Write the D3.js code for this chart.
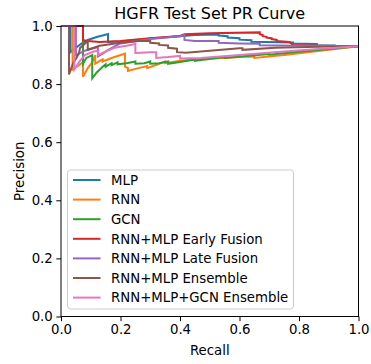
<!DOCTYPE html>
<html>
<head>
<meta charset="utf-8">
<script src="https://cdn.jsdelivr.net/npm/d3@7"></script>
<style>
  body { margin: 0; background: #fff; }
  text { font-family: "DejaVu Sans", sans-serif; fill: #000; }
</style>
</head>
<body>
<script>
// PR curves, as [recall, precision] vertices
var mlpPts = [[0,1],[0.032,1],[0.032,0.91],[0.05,0.925],[0.07,0.94],[0.09,0.952],[0.12,0.962],[0.158,0.972],
  [0.158,0.945],[0.2,0.947],[0.3,0.957],[0.4,0.965],[0.45,0.969],[0.53,0.971],[0.53,0.967],[0.56,0.965],
  [0.56,0.96],[0.6,0.958],[0.6,0.953],[0.64,0.951],[0.64,0.946],[0.78,0.943],[0.78,0.94],[0.86,0.938],
  [0.86,0.934],[0.92,0.933],[0.92,0.931],[1.0,0.93]];

var rnnPts = [[0,1],[0.039,1],[0.039,0.85],[0.06,0.865],[0.074,0.876],[0.074,0.825],[0.09,0.855],[0.105,0.875],
  [0.115,0.9],[0.115,0.87],[0.13,0.88],[0.14,0.885],[0.14,0.878],[0.17,0.89],[0.2,0.9],[0.215,0.905],
  [0.215,0.86],[0.225,0.855],[0.225,0.845],[0.26,0.855],[0.29,0.862],[0.29,0.855],[0.33,0.87],[0.35,0.878],
  [0.35,0.872],[0.4,0.88],[0.45,0.885],[0.5,0.888],[0.55,0.89],[0.6,0.893],[0.65,0.895],[0.65,0.89],
  [0.75,0.9],[0.85,0.912],[0.95,0.924],[1.0,0.93]];

var gcnPts = [[0,1],[0.074,1],[0.074,0.87],[0.085,0.89],[0.105,0.9],[0.105,0.82],[0.12,0.84],[0.14,0.86],
  [0.15,0.868],[0.15,0.86],[0.17,0.872],[0.17,0.865],[0.19,0.875],[0.19,0.868],[0.22,0.872],[0.25,0.878],
  [0.25,0.87],[0.28,0.872],[0.3,0.878],[0.3,0.87],[0.33,0.872],[0.36,0.878],[0.36,0.87],[0.4,0.876],
  [0.45,0.885],[0.45,0.88],[0.55,0.893],[0.55,0.89],[0.7,0.904],[0.7,0.901],[0.8,0.911],[1.0,0.93]];

var earlyPts = [[0,1],[0.074,1],[0.074,0.952],[0.09,0.948],[0.13,0.945],[0.2,0.948],[0.3,0.958],[0.4,0.966],
  [0.415,0.972],[0.5,0.975],[0.668,0.978],[0.668,0.972],[0.678,0.969],[0.678,0.965],[0.691,0.963],
  [0.691,0.96],[0.708,0.958],[0.708,0.955],[0.725,0.952],[0.725,0.948],[0.768,0.945],[0.779,0.935],
  [0.87,0.932],[1.0,0.93]];

var latePts = [[0,1],[0.05,1],[0.05,0.9],[0.08,0.915],[0.124,0.928],[0.124,0.895],[0.14,0.905],[0.155,0.915],
  [0.18,0.93],[0.2,0.94],[0.3,0.955],[0.4,0.965],[0.415,0.969],[0.415,0.952],[0.45,0.948],[0.53,0.948],
  [0.53,0.942],[0.6,0.94],[0.668,0.939],[0.668,0.934],[0.8,0.932],[1.0,0.93]];

var ensPts = [[0,1],[0.027,1],[0.027,0.833],[0.04,0.87],[0.06,0.905],[0.064,0.924],[0.09,0.948],[0.09,0.918],
  [0.13,0.932],[0.2,0.942],[0.26,0.948],[0.3,0.948],[0.3,0.942],[0.33,0.94],[0.33,0.935],[0.36,0.933],
  [0.36,0.925],[0.39,0.922],[0.39,0.91],[0.42,0.908],[0.47,0.912],[0.6,0.923],[0.61,0.923],[0.61,0.918],
  [0.72,0.925],[0.9,0.929],[1.0,0.93]];

var ens3Pts = [[0,1],[0.045,1],[0.045,0.85],[0.06,0.875],[0.08,0.9],[0.11,0.912],[0.125,0.915],[0.125,0.9],
  [0.145,0.91],[0.18,0.925],[0.22,0.932],[0.25,0.938],[0.25,0.907],[0.27,0.908],[0.3,0.91],[0.32,0.91],
  [0.32,0.89],[0.36,0.893],[0.4,0.897],[0.4,0.888],[0.47,0.89],[0.6,0.9],[0.75,0.912],[0.9,0.923],[1.0,0.93]];

var seriesNames = ["MLP", "RNN", "GCN", "RNN+MLP Early Fusion", "RNN+MLP Late Fusion",
                   "RNN+MLP Ensemble", "RNN+MLP+GCN Ensemble"];
var seriesColors = ["#1f77b4", "#ff7f0e", "#2ca02c", "#d62728", "#9467bd", "#8c564b", "#e377c2"];
var seriesPts = [mlpPts, rnnPts, gcnPts, earlyPts, latePts, ensPts, ens3Pts];

var xTicks = [0, 0.2, 0.4, 0.6, 0.8, 1.0];
var yTicks = [0, 0.2, 0.4, 0.6, 0.8, 1.0];

var svg_width = 371, svg_height = 364;
var plot = {left: 61, right: 358.5, top: 26, bottom: 316.5};

var svg = d3.select("body").append("svg")
  .attr("width", svg_width).attr("height", svg_height);

var x = d3.scaleLinear().domain([0, 1]).range([plot.left, plot.right]);
var y = d3.scaleLinear().domain([0, 1]).range([plot.bottom, plot.top]);

// curves
var line = d3.line()
  .x(function(d) { return x(d[0]); })
  .y(function(d) { return y(d[1]); });

svg.append("g").selectAll("path.pr").data(seriesPts)
  .enter().append("path")
    .attr("class", "pr")
    .attr("d", line)
    .attr("fill", "none")
    .attr("stroke", function(d, i) { return seriesColors[i]; })
    .attr("stroke-width", 2)
    .attr("stroke-linejoin", "miter");

// axes
var xAxis = d3.axisBottom(x).tickValues(xTicks).tickSize(4.7).tickPadding(3.5).tickFormat(d3.format(".1f"));
var yAxis = d3.axisLeft(y).tickValues(yTicks).tickSize(4.7).tickPadding(3.5).tickFormat(d3.format(".1f"));

var gx = svg.append("g").attr("transform", "translate(0," + plot.bottom + ")").call(xAxis);
var gy = svg.append("g").attr("transform", "translate(" + plot.left + ",0)").call(yAxis);
[gx, gy].forEach(function(g) {
  g.select(".domain").remove();
  g.selectAll("line").attr("stroke", "#000").attr("stroke-width", 1);
  g.selectAll("text").attr("font-size", "13.3px").attr("font-family", "DejaVu Sans").attr("fill", "#000");
});

// spines
svg.append("rect")
  .attr("x", plot.left).attr("y", plot.top)
  .attr("width", plot.right - plot.left).attr("height", plot.bottom - plot.top)
  .attr("fill", "none").attr("stroke", "#000").attr("stroke-width", 1);

// titles
svg.append("text")
  .attr("x", (plot.left + plot.right) / 2).attr("y", 19)
  .attr("text-anchor", "middle").attr("font-size", "16px")
  .text("HGFR Test Set PR Curve");

svg.append("text")
  .attr("x", (plot.left + plot.right) / 2).attr("y", 355)
  .attr("text-anchor", "middle").attr("font-size", "13.3px")
  .text("Recall");

svg.append("text")
  .attr("transform", "translate(24," + ((plot.top + plot.bottom) / 2) + ") rotate(-90)")
  .attr("text-anchor", "middle").attr("font-size", "13.3px")
  .text("Precision");

// legend
var legend = svg.append("g");
legend.append("rect")
  .attr("x", 67.5).attr("y", 170).attr("width", 226).attr("height", 139).attr("rx", 3)
  .attr("fill", "#fff").attr("fill-opacity", 0.8)
  .attr("stroke", "#ccc").attr("stroke-width", 1);

var rows = legend.selectAll("g.row").data(seriesNames)
  .enter().append("g")
    .attr("class", "row")
    .attr("transform", function(d, i) { return "translate(0," + (180 + i * 19.6) + ")"; });

rows.append("line")
  .attr("x1", 73).attr("x2", 100.5).attr("y1", 0).attr("y2", 0)
  .attr("stroke", function(d, i) { return seriesColors[i]; })
  .attr("stroke-width", 2);

rows.append("text")
  .attr("x", 111).attr("y", 0).attr("dy", "0.36em")
  .attr("font-size", "13.3px")
  .text(function(d) { return d; });
</script>
</body>
</html>
